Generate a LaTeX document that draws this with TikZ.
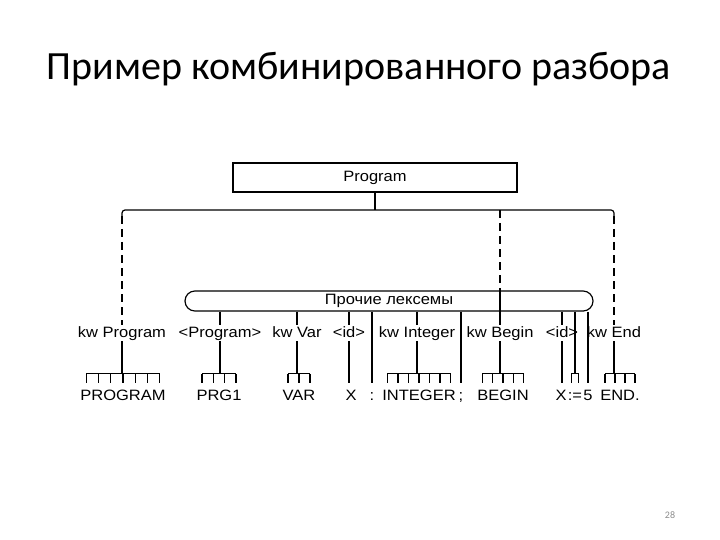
\documentclass[tikz,border=0pt]{standalone}
\usepackage{fontspec}
\setmainfont{Carlito}
\newfontfamily\diagfont[FakeStretch=1.1]{Liberation Sans}
\usetikzlibrary{positioning,calc}
\definecolor{pagenum}{HTML}{8C8C8C}

\begin{document}
\begin{tikzpicture}[x=1bp,y=-1bp,
  rule/.style={line width=1.2bp},
  link/.style={rule,dash pattern=on 8bp off 5bp},
  lbl/.style={font=\diagfont\fontsize{15bp}{17bp}\selectfont,anchor=base,inner xsep=1bp,inner ysep=1bp,text height=11bp,text depth=3bp},
  tok/.style={font=\diagfont\fontsize{15bp}{17bp}\selectfont,anchor=base,inner xsep=0pt,inner ysep=1bp,text height=11bp,text depth=0pt},
  frame/.style={draw,rule,font=\diagfont\fontsize{15bp}{17bp}\selectfont}]
\useasboundingbox (0,0) rectangle (720,540);
\node[font=\fontsize{40bp}{44bp}\selectfont,anchor=base] (title) at (359,80) {Пример комбинированного разбора};
\node[font=\fontsize{10bp}{12bp}\selectfont,text=pagenum] (page) at (670,515) {28};
% upper levels
\node[frame,minimum width=284bp,minimum height=29bp] (prog) at (375,177.5) {Program};
\node[frame,rounded corners=10bp,minimum width=408bp,minimum height=20bp] (rest) at (389,301) {Прочие лексемы};
% lexeme classes
\node[lbl] (lProgram) at (122,337) {kw Program};
\node[lbl] (lPrg) at (220,337) {<Program>};
\node[lbl] (lVar) at (297,337) {kw Var};
\node[lbl] (lId) at (349,337) {<id>};
\node[lbl] (lInteger) at (417,337) {kw Integer};
\node[lbl] (lBegin) at (500,337) {kw Begin};
\node[lbl] (lId2) at (562,337) {<id>};
\node[lbl] (lEnd) at (614,337) {kw End};
% source text
\node[tok] (tProgram) at (123,400) {PROGRAM};
\node[tok] (tPrg) at (219,400) {PRG1};
\node[tok] (tVar) at (299,400) {VAR};
\node[tok] (tX) at (351,400) {X};
\node[tok] (tColon) at (372,400) {:};
\node[tok] (tInteger) at (419,400) {INTEGER};
\node[tok] (tSemi) at (461,400) {;};
\node[tok] (tBegin) at (503,400) {BEGIN};
\node[tok] (tX2) at (561,400) {X};
\node[tok] (tAssign) at (575,400) {:=};
\node[tok] (tFive) at (588,400) {5};
\node[tok] (tEnd) at (620,400) {END.};
\foreach \t in {tProgram,tPrg,tVar,tX,tColon,tInteger,tSemi,tBegin,tX2,tAssign,tFive,tEnd}{
  \coordinate (\t-top) at ($(\t.north)+(0,-5)$);
  \coordinate (\t-bar) at ($(\t.north)+(0,-14)$);
}
% letter combs
\foreach \t/\n in {tProgram/7,tPrg/4,tVar/3,tInteger/7,tBegin/5,tAssign/2,tEnd/4}{
  \draw[rule] ($(\t.north west)!{0.5/\n}!(\t.north east)+(0,-14)$) -- ($(\t.north west)!{1-0.5/\n}!(\t.north east)+(0,-14)$);
  \foreach \i in {1,...,\n}
    \draw[rule] ($(\t.north west)!{(\i-0.5)/\n}!(\t.north east)+(0,-14)$) -- ++(0,9);
}
% top split
\coordinate (split) at (0,210);
\coordinate (hl) at (lProgram.north |- split);
\coordinate (hr) at (lEnd.north |- split);
\draw[rule] (prog.south) -- (prog.south |- split);
\draw[rule,rounded corners=3bp] ($(hl)+(0,6)$) -- (hl) -- (hr) -- ($(hr)+(0,6)$);
\draw[link] ($(hl)+(0,6)$) -- (lProgram.north);
\draw[link] ($(hr)+(0,6)$) -- (lEnd.north);
\draw[link] (lBegin.north |- split) -- (lBegin.north |- rest.north);
\draw[rule] (lBegin.north |- rest.north) -- (lBegin.north);
% from the lexeme bar
\foreach \l in {lPrg,lVar,lId,lInteger,lId2}
  \draw[rule] (rest.south -| \l.north) -- (\l.north);
\foreach \t in {tColon,tSemi,tFive}
  \draw[rule] (rest.south -| \t-top) -- (\t-top);
\draw[rule] (rest.south -| tAssign-bar) -- (tAssign-bar);
% classes down to text
\draw[rule] (lProgram.south) -- (lProgram.south |- tProgram-bar);
\draw[rule] (lPrg.south) -- (lPrg.south |- tPrg-bar);
\draw[rule] (lVar.south) -- (lVar.south |- tVar-bar);
\draw[rule] (lId.south) -- (lId.south |- tX-top);
\draw[rule] (lInteger.south) -- (lInteger.south |- tInteger-bar);
\draw[rule] (lBegin.south) -- (lBegin.south |- tBegin-bar);
\draw[rule] (lId2.south) -- (lId2.south |- tX2-top);
\draw[rule] (lEnd.south) -- (lEnd.south |- tEnd-bar);
\end{tikzpicture}
\end{document}
